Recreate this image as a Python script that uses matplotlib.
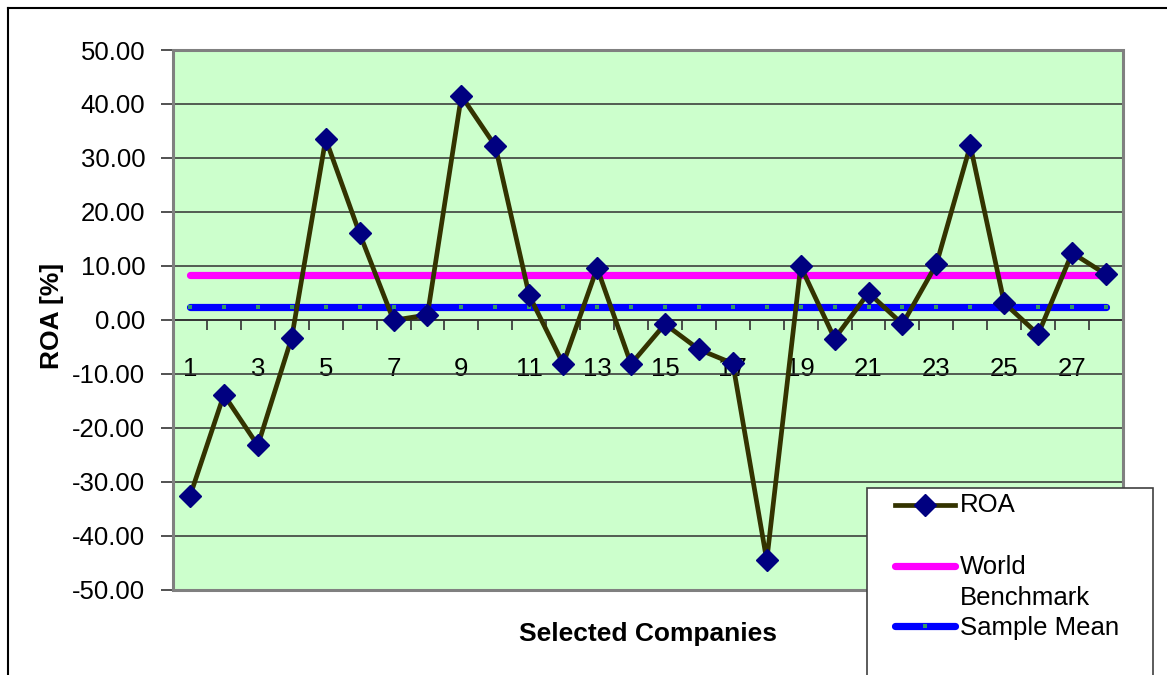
import matplotlib
matplotlib.use("Agg")
import matplotlib.pyplot as plt
from matplotlib.lines import Line2D
from matplotlib.patches import Rectangle
from matplotlib.ticker import FixedLocator, FuncFormatter

plt.rcParams['font.family'] = ['Liberation Sans', 'DejaVu Sans']

# ---- data ----
companies = list(range(1, 29))
roa = [-32.7, -13.9, -23.3, -3.3, 33.5, 16.0, -0.1, 0.9, 41.5, 32.2,
       4.5, -8.2, 9.6, -8.2, -0.8, -5.5, -8.1, -44.6, 9.9, -3.5,
       5.0, -0.8, 10.3, 32.3, 3.1, -2.7, 12.4, 8.4]
world_benchmark = 8.27
sample_mean = 2.34
x_tick_labels = [str(c) for c in companies if c % 2 == 1]
y_ticks = [-50, -40, -30, -20, -10, 0, 10, 20, 30, 40, 50]

W, H = 1167, 675
fig = plt.figure(figsize=(W / 100, H / 100), dpi=100)
fig.patch.set_facecolor('white')

def fx(px):
    return px / W

def fy(py):
    return 1 - py / H

ax = fig.add_axes([fx(173), fy(589.5), fx(1123) - fx(173), fy(50) - fy(589.5)])
ax.set_facecolor('#CCFFCC')
ax.set_axisbelow(True)

ax.plot(companies, [world_benchmark] * len(companies), color='#FF00FF',
        lw=5.2, solid_capstyle='round', zorder=3)
ax.plot(companies, [sample_mean] * len(companies), color='#0000FF',
        lw=5.2, solid_capstyle='round', zorder=3.1,
        marker='s', ms=3.2, mfc='#339966', mec='#339966', mew=0)
ax.plot(companies, roa, color='#333300', lw=3.4, zorder=4,
        marker='D', ms=11, mfc='#000080', mec='#000080', mew=1)

ax.set_xlim(0.5, 28.5)
ax.set_ylim(-50, 50)

# y axis
ax.set_yticks(y_ticks)
ax.yaxis.set_major_formatter(FuncFormatter(lambda v, p: f"{v:.2f}"))
ax.tick_params(axis='y', direction='out', length=9, width=1.2, color='#333333',
               pad=11, labelsize=18.5)
ax.yaxis.grid(True, color='#303030', lw=1.1)

# x axis at zero
ax.spines['bottom'].set_position(('data', 0))
ax.spines['bottom'].set_color('#303030')
ax.spines['bottom'].set_linewidth(1.2)
ax.xaxis.set_major_locator(FixedLocator([c for c in companies if c % 2 == 1]))
ax.set_xticklabels(x_tick_labels)
ax.xaxis.set_minor_locator(FixedLocator([c + 0.5 for c in companies[:-1]]))
ax.tick_params(axis='x', which='major', length=0, pad=27, labelsize=18.5)
ax.tick_params(axis='x', which='minor', direction='out', length=7, width=1.2,
               color='#303030')

for s in ['top', 'left', 'right']:
    ax.spines[s].set_color('#808080')
    ax.spines[s].set_linewidth(2)
ax.spines['left'].set_color('#606060')
ax.add_patch(Rectangle((0, 0), 1, 1, transform=ax.transAxes, fill=False,
                       ec='#808080', lw=2.2, zorder=5, clip_on=False))

fig.text(fx(52), fy(316), 'ROA [%]', rotation=90, ha='center', va='center',
         fontsize=19, fontweight='bold')
fig.text(fx(648), fy(634), 'Selected Companies', ha='center', va='center',
         fontsize=19, fontweight='bold')

# outer frame
fig.add_artist(Line2D([fx(7.5), fx(7.5)], [fy(8), -0.05], transform=fig.transFigure,
                      color='black', lw=1.5))
fig.add_artist(Line2D([fx(7.5), 1.05], [fy(8), fy(8)], transform=fig.transFigure,
                      color='black', lw=1.5))

# legend
fig.add_artist(Rectangle((fx(867), -0.05), fx(1153) - fx(867), fy(488) + 0.05,
                         transform=fig.transFigure, fc='white', ec='#404040',
                         lw=1.2, zorder=10))
hx = [fx(895), fx(955)]
fig.add_artist(Line2D(hx, [fy(505)] * 2, transform=fig.transFigure, color='#333300',
                      lw=3.4, zorder=11))
fig.add_artist(Line2D([fx(925)], [fy(505)], transform=fig.transFigure, marker='D',
                      ms=11, mfc='#000080', mec='#000080', ls='none', zorder=12))
fig.add_artist(Line2D(hx, [fy(566)] * 2, transform=fig.transFigure, color='#FF00FF',
                      lw=5.2, solid_capstyle='round', zorder=11))
fig.add_artist(Line2D(hx, [fy(626)] * 2, transform=fig.transFigure, color='#0000FF',
                      lw=5.2, solid_capstyle='round', zorder=11))
fig.add_artist(Line2D([fx(925)], [fy(626)], transform=fig.transFigure, marker='s',
                      ms=3.2, mfc='#339966', mec='#339966', mew=0, ls='none', zorder=12))
for label, py in [('ROA', 505), ('World', 567), ('Benchmark', 598), ('Sample Mean', 628)]:
    fig.text(fx(960), fy(py), label, ha='left', va='center', fontsize=18.5, zorder=13)

fig.savefig('out.png', dpi=100, facecolor='white')
